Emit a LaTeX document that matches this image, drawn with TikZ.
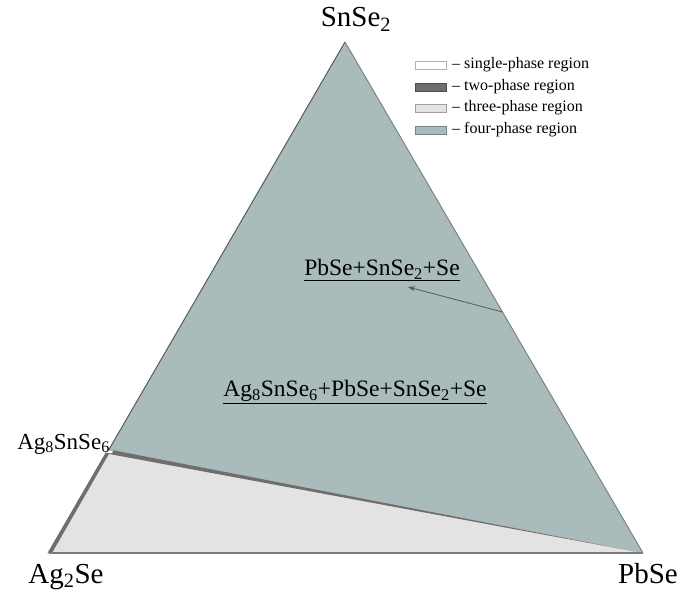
\documentclass[tikz,border=0pt]{standalone}
\usepackage{fontspec}
\setmainfont{Liberation Serif}
\usetikzlibrary{arrows.meta,calc}
\definecolor{fourph}{HTML}{A9BBBB}
\definecolor{threeph}{HTML}{E3E3E3}
\definecolor{twoph}{HTML}{6E6E6E}
\definecolor{edgec}{HTML}{5A5A5A}
\tikzset{
  corner/.style={inner sep=0pt, font=\fontsize{29}{31}\selectfont},
  region/.style={inner sep=0pt, font=\fontsize{23.5}{25}\selectfont},
  legtext/.style={inner sep=0pt, anchor=west, font=\fontsize{16}{18}\selectfont},
  swatch/.style={minimum width=31pt, minimum height=8pt, inner sep=0pt, draw=#1!70!black, fill=#1, line width=0.4pt},
}
\begin{document}
\begin{tikzpicture}[x=1pt,y=-1pt]
\useasboundingbox (0,0) rectangle (682,591);
% vertices
\coordinate (A) at (49,553);
\coordinate (P) at (643,553);
\coordinate (S) at (345,42);
\coordinate (M) at (108.2,450.8);
% regions
\fill[fourph] (M) -- (S) -- (P) -- cycle;
\fill[threeph] (A) -- (M) -- (P) -- cycle;
% two-phase wedges
\fill[twoph] ($(M)+(0,-1.5)$) -- ($(M)+(0,3)$) -- (P) -- cycle;
\fill[twoph] ($(A)+(-1.5,0)$) -- ($(M)+(-1.5,0)$) -- ($(M)+(2.5,0)$) -- ($(A)+(3,0)$) -- cycle;
% edges
\draw[edgec, line width=1pt] (M) -- (S);
\draw[edgec!80, line width=0.9pt] (S) -- (P);
\draw[twoph!90, line width=2pt] (A) -- (P);
% single-phase point
\fill[white] (105.5,450.2) -- (113,450.6) -- (112,453.2) -- (106,452.6) -- cycle;
% corner labels
\node[corner] (sn) at (356,19) {SnSe\textsubscript{2}};
\node[corner, anchor=base] (ag) at (66,583) {Ag\textsubscript{2}Se};
\node[corner, anchor=base east] (pb) at (678,583) {PbSe};
\node[inner sep=0pt, anchor=east, font=\fontsize{23}{25}\selectfont] (agsn) at (110,444) {Ag\textsubscript{8}SnSe\textsubscript{6}};
% region labels
\node[region] (r3) at (382,270) {\underline{PbSe+SnSe\textsubscript{2}+Se}};
\node[region] (r4) at (355,392) {\underline{Ag\textsubscript{8}SnSe\textsubscript{6}+PbSe+SnSe\textsubscript{2}+Se}};
\coordinate (tip) at (408,287);
\coordinate (tail) at (502.5,312);
\draw[edgec, line width=0.8pt, -{Stealth[length=7pt,width=5pt]}] (tail) -- (tip);
% legend
\node[swatch=white] (s1) at (431,65) {};
\node[swatch=twoph] (s2) at (431,87) {};
\node[swatch=threeph] (s3) at (431,108) {};
\node[swatch=fourph] (s4) at (431,130) {};
\node[legtext] (l1) at (452,65) {-- single-phase region};
\node[legtext] (l2) at (452,87) {-- two-phase region};
\node[legtext] (l3) at (452,108) {-- three-phase region};
\node[legtext] (l4) at (452,130) {-- four-phase region};
\end{tikzpicture}
\end{document}
